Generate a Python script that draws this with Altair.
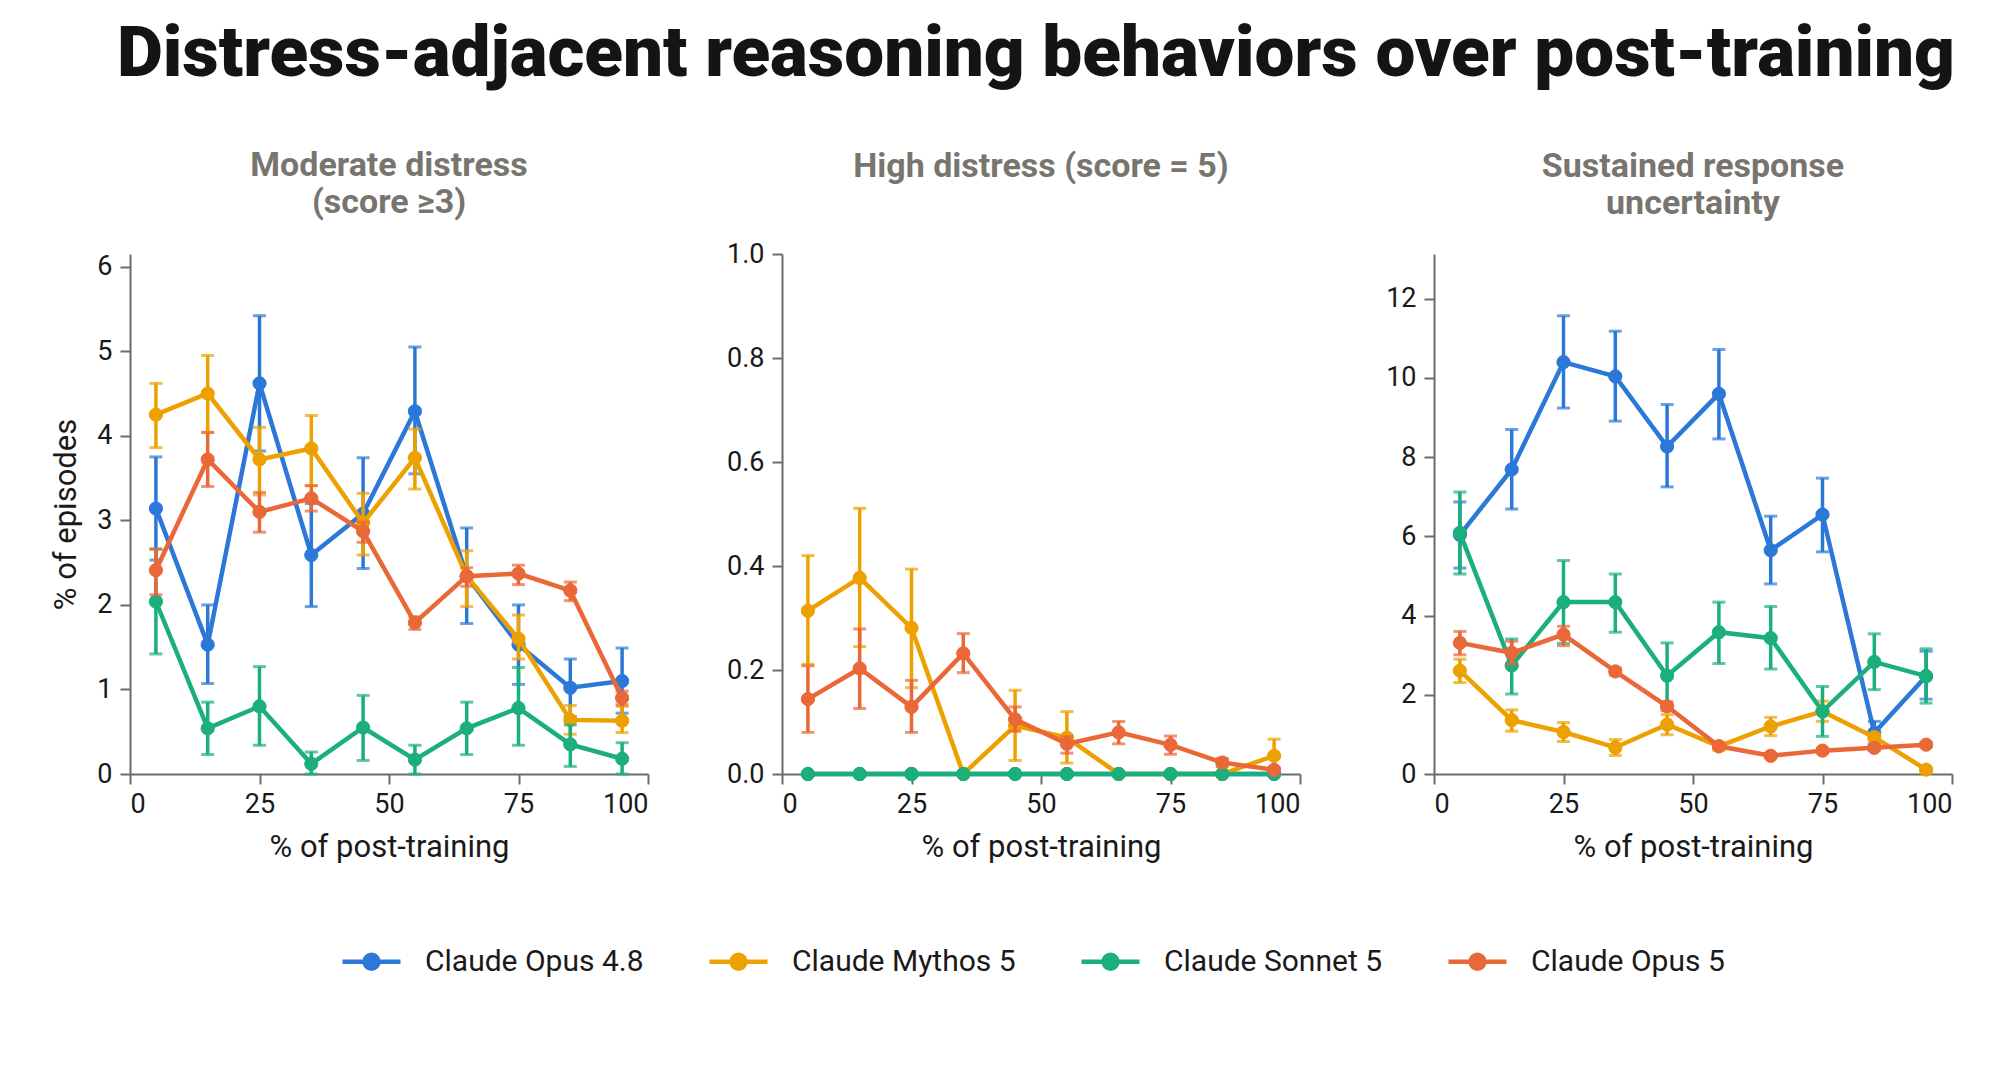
import altair as alt
import pandas as pd

# ---------------- data ----------------
models = ["Claude Opus 4.8", "Claude Mythos 5", "Claude Sonnet 5", "Claude Opus 5"]
colors = ["#2B78D8", "#EDA100", "#1BAF7B", "#EA6737"]
x_pct = [5, 15, 25, 35, 45, 55, 65, 75, 85, 95]

panel_titles = [["Moderate distress", "(score \u22653)"], ["High distress (score = 5)"],
                ["Sustained response", "uncertainty"]]

# Panel 1: Moderate distress (score >= 3)
opus48_m = [3.14, 1.53, 4.62, 2.59, 3.08, 4.29, 2.34, 1.53, 1.02, 1.10]
opus48_m_lo = [2.53, 1.07, 3.82, 1.98, 2.43, 3.55, 1.78, 1.06, 0.68, 0.72]
opus48_m_hi = [3.75, 2.00, 5.42, 3.20, 3.74, 5.05, 2.91, 2.00, 1.36, 1.49]
mythos_m = [4.25, 4.50, 3.72, 3.85, 2.97, 3.74, 2.34, 1.60, 0.64, 0.63]
mythos_m_lo = [3.86, 4.04, 3.30, 3.41, 2.59, 3.37, 1.98, 1.36, 0.47, 0.49]
mythos_m_hi = [4.62, 4.95, 4.10, 4.24, 3.32, 4.08, 2.64, 1.88, 0.81, 0.80]
sonnet_m = [2.04, 0.54, 0.80, 0.12, 0.55, 0.17, 0.54, 0.78, 0.35, 0.18]
sonnet_m_lo = [1.42, 0.23, 0.34, 0.00, 0.16, 0.00, 0.23, 0.34, 0.09, 0.00]
sonnet_m_hi = [2.66, 0.85, 1.27, 0.26, 0.93, 0.34, 0.85, 1.26, 0.58, 0.37]
opus5_m = [2.41, 3.72, 3.10, 3.26, 2.87, 1.79, 2.34, 2.37, 2.17, 0.90]
opus5_m_lo = [2.12, 3.40, 2.86, 3.11, 2.74, 1.71, 2.22, 2.24, 2.05, 0.82]
opus5_m_hi = [2.66, 4.04, 3.33, 3.41, 2.98, 1.86, 2.44, 2.47, 2.27, 0.98]

# Panel 2: High distress (score = 5)
opus48_h = [0.0] * 10
opus48_h_lo = [0.0] * 10
opus48_h_hi = [0.0] * 10
mythos_h = [0.314, 0.377, 0.281, 0.0, 0.093, 0.070, 0.0, 0.0, 0.0, 0.035]
mythos_h_lo = [0.211, 0.245, 0.166, 0.0, 0.026, 0.021, 0.0, 0.0, 0.0, 0.003]
mythos_h_hi = [0.420, 0.511, 0.394, 0.0, 0.161, 0.120, 0.0, 0.0, 0.0, 0.067]
sonnet_h = [0.0] * 10
sonnet_h_lo = [0.0] * 10
sonnet_h_hi = [0.0] * 10
opus5_h = [0.144, 0.203, 0.129, 0.232, 0.105, 0.058, 0.080, 0.056, 0.022, 0.008]
opus5_h_lo = [0.080, 0.126, 0.080, 0.195, 0.082, 0.040, 0.058, 0.038, 0.014, 0.004]
opus5_h_hi = [0.208, 0.279, 0.180, 0.270, 0.129, 0.072, 0.101, 0.073, 0.030, 0.012]

# Panel 3: Sustained response uncertainty
opus48_s = [6.04, 7.69, 10.40, 10.04, 8.27, 9.60, 5.65, 6.55, 1.04, 2.47]
opus48_s_lo = [5.20, 6.69, 9.24, 8.91, 7.25, 8.46, 4.80, 5.61, 0.75, 1.89]
opus48_s_hi = [6.87, 8.70, 11.57, 11.18, 9.33, 10.72, 6.51, 7.47, 1.33, 3.10]
mythos_s = [2.61, 1.36, 1.06, 0.67, 1.25, 0.70, 1.20, 1.58, 0.93, 0.11]
mythos_s_lo = [2.31, 1.08, 0.82, 0.47, 0.99, 0.60, 0.97, 1.33, 0.83, 0.06]
mythos_s_hi = [2.90, 1.62, 1.30, 0.87, 1.50, 0.80, 1.43, 1.84, 1.03, 0.16]
sonnet_s = [6.09, 2.74, 4.34, 4.34, 2.48, 3.58, 3.43, 1.58, 2.83, 2.47]
sonnet_s_lo = [5.05, 2.02, 3.30, 3.58, 1.65, 2.79, 2.65, 0.95, 2.13, 1.79]
sonnet_s_hi = [7.12, 3.41, 5.39, 5.05, 3.31, 4.34, 4.23, 2.21, 3.54, 3.16]
opus5_s = [3.31, 3.06, 3.52, 2.59, 1.71, 0.70, 0.46, 0.59, 0.66, 0.74]
opus5_s_lo = [3.01, 2.78, 3.24, 2.50, 1.60, 0.64, 0.41, 0.53, 0.60, 0.68]
opus5_s_hi = [3.60, 3.35, 3.73, 2.68, 1.82, 0.76, 0.51, 0.65, 0.72, 0.80]

y_max = [6.15, 1.0, 13.13]
y_ticks = [[0, 1, 2, 3, 4, 5, 6], [0, 0.2, 0.4, 0.6, 0.8, 1.0], [0, 2, 4, 6, 8, 10, 12]]
y_formats = ["d", ".1f", "d"]
x_ticks = [0, 25, 50, 75, 100]

series = {
    0: [(opus48_m, opus48_m_lo, opus48_m_hi), (mythos_m, mythos_m_lo, mythos_m_hi),
        (sonnet_m, sonnet_m_lo, sonnet_m_hi), (opus5_m, opus5_m_lo, opus5_m_hi)],
    1: [(opus48_h, opus48_h_lo, opus48_h_hi), (mythos_h, mythos_h_lo, mythos_h_hi),
        (sonnet_h, sonnet_h_lo, sonnet_h_hi), (opus5_h, opus5_h_lo, opus5_h_hi)],
    2: [(opus48_s, opus48_s_lo, opus48_s_hi), (mythos_s, mythos_s_lo, mythos_s_hi),
        (sonnet_s, sonnet_s_lo, sonnet_s_hi), (opus5_s, opus5_s_lo, opus5_s_hi)],
}

rows = []
for p, lst in series.items():
    for m, (ys, los, his) in zip(models, lst):
        for xv, yv, lo, hi in zip(x_pct, ys, los, his):
            rows.append({"panel": p, "model": m, "x": xv, "y": yv, "lo": lo, "hi": hi})
df = pd.DataFrame(rows)

FONT = "Roboto"
AXIS_GREY = "#6b6b6b"
W, H = 518, 520

legend_path = ("M-1,0L1,0M0.24,0A0.24,0.24,0,1,1,-0.24,0"
               "A0.24,0.24,0,1,1,0.24,0Z")
leg = alt.Legend(title=None, orient="none", direction="horizontal",
                 legendX=210, legendY=676, symbolType=legend_path,
                 symbolSize=3364, symbolStrokeWidth=4.5, labelFontSize=30,
                 labelFont=FONT, labelColor="#1a1a1a", labelOffset=22,
                 columnPadding=56, labelLimit=400)
cscale = alt.Scale(domain=models, range=colors)


def panel(p):
    xenc = alt.X("x:Q", scale=alt.Scale(domain=[0, 100], nice=False),
                 axis=alt.Axis(values=x_ticks, title="% of post-training"))
    yaxis = alt.Axis(values=y_ticks[p], format=y_formats[p],
                     title="% of episodes" if p == 0 else None)
    yscale = alt.Scale(domain=[0, y_max[p]], nice=False, zero=True)
    layers = []
    for m in models:
        base = alt.Chart(df).transform_filter(
            (alt.datum.panel == p) & (alt.datum.model == m))
        stroke = alt.Stroke("model:N", scale=cscale, legend=leg)
        fill = alt.Fill("model:N", scale=cscale, legend=leg)
        line = base.mark_line(strokeWidth=4.5).encode(
            x=xenc, y=alt.Y("y:Q", scale=yscale, axis=yaxis), stroke=stroke)
        errs = base.transform_filter(alt.datum.hi > alt.datum.lo)
        rule = errs.mark_rule(strokeWidth=3.5).encode(
            x="x:Q", y="lo:Q", y2="hi:Q", stroke=stroke)
        tlo = errs.mark_tick(orient="horizontal", size=13, thickness=3).encode(
            x="x:Q", y="lo:Q", fill=fill)
        thi = errs.mark_tick(orient="horizontal", size=13, thickness=3).encode(
            x="x:Q", y="hi:Q", fill=fill)
        pts = base.mark_point(filled=True, size=175, opacity=1, strokeWidth=1).encode(
            x="x:Q", y="y:Q", fill=fill, stroke=stroke)
        layers += [line, rule, tlo, thi, pts]
    t = panel_titles[p]
    return alt.layer(*layers).properties(
        width=W, height=H,
        title=alt.TitleParams(t, fontSize=34, font=FONT, fontWeight="bold",
                              color="#77756e", lineHeight=37,
                              offset=33 if len(t) == 2 else 56, anchor="middle"))


chart = alt.hconcat(panel(0), panel(1), panel(2), spacing=134, bounds="flush").properties(
    title=alt.TitleParams("Distress-adjacent reasoning behaviors over post-training",
                          fontSize=71, font=FONT, fontWeight=900, color="#141413",
                          anchor="middle", dx=34, offset=58),
    padding={"left": 42, "top": 10, "right": 10, "bottom": 10},
    background="white",
).configure_view(stroke=None).configure_axis(
    grid=False, domainColor=AXIS_GREY, domainWidth=2, tickColor=AXIS_GREY,
    tickWidth=2, tickSize=10, labelFont=FONT, labelFontSize=27, labelColor="#1a1a1a",
    labelPadding=7, titleFont=FONT, titleFontSize=31, titleFontWeight="normal",
    titleColor="#1a1a1a", titlePadding=10,
).configure_axisX(titlePadding=15).configure_axisY(titlePadding=14, labelPadding=8)

chart.save("out.html", embed_options={"renderer": "svg", "actions": False})
